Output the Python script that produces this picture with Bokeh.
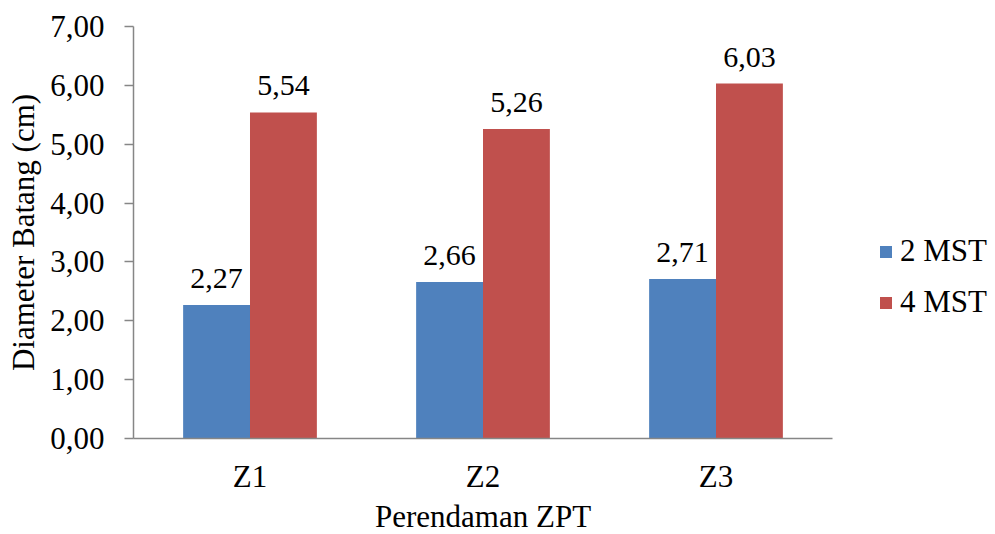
from bokeh.plotting import figure
from bokeh.models import (ColumnDataSource, Range1d, Legend, LegendItem, Title,
                          CustomJSTickFormatter, FixedTicker, LabelSet)
from bokeh.transform import dodge
from bokeh.embed import file_html
from bokeh.resources import INLINE

# Stem diameter (cm) per ZPT soaking treatment, 2 and 4 weeks after planting
categories = ["Z1", "Z2", "Z3"]
mst2 = [2.27, 2.66, 2.71]
mst4 = [5.54, 5.26, 6.03]
series_names = ["2 MST", "4 MST"]
y_ticks = [0, 1, 2, 3, 4, 5, 6, 7]
x_title = "Perendaman ZPT"
y_title = "Diameter Batang (cm)"

FONT = "Liberation Serif"
BLUE = "#4F81BD"
RED = "#C0504D"
AXIS_GREY = "#868686"
FS = "31px"

def comma(v):
    return f"{v:.2f}".replace(".", ",")

# categories sit at slot centres 0.5, 1.5, 2.5 on a numeric axis so the
# legend can live inside the (wider) frame to the right of the axis
xpos = [i + 0.5 for i in range(len(categories))]
n = len(categories)

src = ColumnDataSource(dict(
    x=xpos,
    mst2=mst2,
    mst4=mst4,
    lab2=[comma(v) for v in mst2],
    lab4=[comma(v) for v in mst4],
))

W, H = 995, 534
left, right_axis_end, top, bottom = 133, 832, 26, 96
x_end = n * (W - left) / (right_axis_end - left)

p = figure(width=W, height=H, x_range=Range1d(0, x_end),
           y_range=Range1d(0, 7), output_backend="svg", toolbar_location=None,
           min_border_left=left, min_border_right=0, min_border_top=top,
           min_border_bottom=bottom)
p.outline_line_color = None
p.background_fill_color = "white"
p.border_fill_color = "white"
p.xgrid.visible = False
p.ygrid.visible = False

bw = 0.287
r2 = p.vbar(x=dodge("x", -bw / 2), top="mst2", width=bw,
            source=src, fill_color=BLUE, line_color=None)
r4 = p.vbar(x=dodge("x", bw / 2), top="mst4", width=bw,
            source=src, fill_color=RED, line_color=None)

for col, lab, off in (("mst2", "lab2", -bw / 2), ("mst4", "lab4", bw / 2)):
    p.add_layout(LabelSet(x=dodge("x", off), y=col, text=lab,
                          source=src, text_align="center", text_baseline="alphabetic",
                          y_offset=17, text_font=FONT, text_font_size="30px",
                          text_color="black"))

# Y axis
p.yaxis.ticker = FixedTicker(ticks=y_ticks)
p.yaxis.formatter = CustomJSTickFormatter(code="return tick.toFixed(2).replace('.', ',');")
p.yaxis.axis_line_color = AXIS_GREY
p.yaxis.axis_line_width = 1.5
p.yaxis.major_tick_line_color = AXIS_GREY
p.yaxis.major_tick_line_width = 1.5
p.yaxis.major_tick_out = 9
p.yaxis.major_tick_in = 0
p.yaxis.minor_tick_line_color = None
p.yaxis.major_label_text_font = FONT
p.yaxis.major_label_text_font_size = FS
p.yaxis.major_label_text_color = "black"
p.yaxis.major_label_standoff = 20
p.yaxis.axis_label = y_title
p.yaxis.axis_label_text_font = FONT
p.yaxis.axis_label_text_font_size = FS
p.yaxis.axis_label_text_font_style = "normal"
p.yaxis.axis_label_text_color = "black"
p.yaxis.axis_label_standoff = 6

# X axis: line only across the category slots
p.xaxis.ticker = FixedTicker(ticks=xpos)
p.xaxis.major_label_overrides = {x: c for x, c in zip(xpos, categories)}
p.xaxis.bounds = (0, n)
p.xaxis.axis_line_color = AXIS_GREY
p.xaxis.axis_line_width = 1.5
p.xaxis.major_tick_line_color = None
p.xaxis.major_tick_out = 0
p.xaxis.major_tick_in = 0
p.xaxis.minor_tick_line_color = None
p.xaxis.major_label_text_font = FONT
p.xaxis.major_label_text_font_size = FS
p.xaxis.major_label_text_color = "black"
p.xaxis.major_label_standoff = 20

# x-axis title centred under the category slots, not the whole frame
axis_len = right_axis_end - left
title_w = 216
p.add_layout(Title(text=x_title, align="left", offset=axis_len / 2 - title_w / 2,
                   text_font=FONT, text_font_size=FS, text_font_style="normal",
                   text_color="black", standoff=0), "below")

legend = Legend(items=[LegendItem(label=series_names[0], renderers=[r2]),
                       LegendItem(label=series_names[1], renderers=[r4])],
                location=(745, 118), orientation="vertical",
                glyph_width=15, glyph_height=15, label_standoff=7,
                spacing=15, padding=0, margin=0,
                border_line_color=None, background_fill_alpha=0,
                label_text_font=FONT, label_text_font_size=FS,
                label_text_color="black")
p.add_layout(legend, "center")

open("out.html", "w").write(file_html(p, INLINE))
